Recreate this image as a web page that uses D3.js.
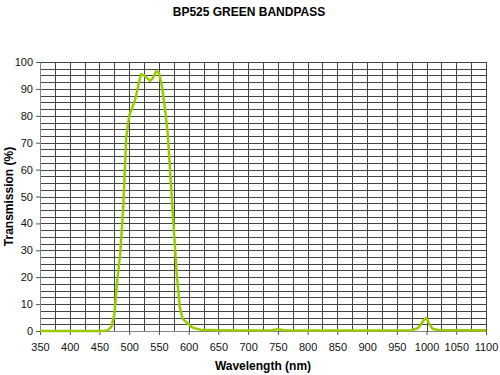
<!DOCTYPE html>
<html>
<head>
<meta charset="utf-8">
<script src="https://cdn.jsdelivr.net/npm/d3@7"></script>
<style>
    html, body { margin: 0; padding: 0; background: #fff; overflow: hidden; }
    svg { display: block; font-family: "Liberation Sans", Arial, sans-serif; }
    .tick text { font-size: 11px; fill: #111; }
    .title { font-size: 12px; font-weight: bold; }
    .axis-title { font-size: 12px; font-weight: bold; }
</style>
</head>
<body>
<div id="chart"></div>
<script>
const wavelengths = [350, 400, 450, 460, 465, 470, 475, 480, 485, 490, 495, 500, 505, 510, 515, 520, 525, 530, 535, 540, 545, 550, 555, 560, 565, 570, 575, 580, 585, 590, 595, 600, 605, 610, 620, 650, 700, 740, 750, 760, 800, 900, 975, 985, 990, 995, 1000, 1005, 1010, 1020, 1050, 1100];
const transmission = [0, 0, 0, 0.1, 0.4, 1.5, 6, 19, 29, 46, 72, 80, 83, 86, 91, 95.5, 95, 94, 93, 94, 96.5, 96, 91, 83, 73, 55, 38, 21, 9, 4.5, 3.5, 2.5, 1.5, 1, 0.5, 0.3, 0.2, 0.3, 0.7, 0.3, 0.2, 0.2, 0.3, 1, 2.2, 4, 4.8, 2.5, 0.8, 0.4, 0.3, 0.3];
const xTicks = d3.range(350, 1101, 50);
const yTicks = d3.range(0, 101, 10);

const width = 500;
const height = 375;
const margin = { top: 62, right: 14, bottom: 44, left: 40 };
const innerWidth = width - margin.left - margin.right;
const innerHeight = height - margin.top - margin.bottom;

const svg = d3.select("#chart")
    .append("svg")
    .attr("width", width)
    .attr("height", height);

const chart = svg.append("g")
    .attr("transform", `translate(${margin.left},${margin.top})`);

const x = d3.scaleLinear().domain([350, 1100]).range([0, innerWidth]);
const y = d3.scaleLinear().domain([0, 100]).range([innerHeight, 0]);

// grid: every 25 nm and every 2.5 %
chart.append("g")
    .selectAll("line")
    .data(d3.range(350, 1101, 25))
    .enter()
    .append("line")
    .attr("x1", d => Math.round(x(d)) + 0.5)
    .attr("x2", d => Math.round(x(d)) + 0.5)
    .attr("y1", 0)
    .attr("y2", innerHeight)
    .attr("stroke", "#444");

chart.append("g")
    .selectAll("line")
    .data(d3.range(0, 100.1, 2.5))
    .enter()
    .append("line")
    .attr("x1", 0)
    .attr("x2", innerWidth)
    .attr("y1", d => Math.round(y(d)) + 0.5)
    .attr("y2", d => Math.round(y(d)) + 0.5)
    .attr("stroke", "#444");

const xAxis = chart.append("g")
    .attr("transform", `translate(0,${innerHeight})`)
    .call(d3.axisBottom(x).tickValues(xTicks).tickSize(4).tickPadding(8).tickFormat(d3.format("d")));
xAxis.select(".domain").attr("stroke", "#888");
xAxis.selectAll(".tick line").attr("stroke", "#555");

const yAxis = chart.append("g")
    .call(d3.axisLeft(y).tickValues(yTicks).tickSize(4).tickPadding(3).tickFormat(d3.format("d")));
yAxis.select(".domain").attr("stroke", "#888");
yAxis.selectAll(".tick line").attr("stroke", "#555");

const points = wavelengths.map((w, i) => [w, transmission[i]]);

chart.append("path")
    .datum(points)
    .attr("fill", "none")
    .attr("stroke", "#99cc00")
    .attr("stroke-width", 2.5)
    .attr("stroke-linejoin", "round")
    .attr("d", d3.line().x(d => x(d[0])).y(d => y(d[1])));

svg.append("text")
    .attr("class", "title")
    .attr("x", 249)
    .attr("y", 16)
    .attr("text-anchor", "middle")
    .text("BP525 GREEN BANDPASS");

svg.append("text")
    .attr("class", "axis-title")
    .attr("x", margin.left + innerWidth / 2)
    .attr("y", 370)
    .attr("text-anchor", "middle")
    .text("Wavelength (nm)");

svg.append("text")
    .attr("class", "axis-title")
    .attr("transform", `translate(13,${margin.top + innerHeight / 2}) rotate(-90)`)
    .attr("text-anchor", "middle")
    .text("Transmission (%)");
</script>
</body>
</html>
